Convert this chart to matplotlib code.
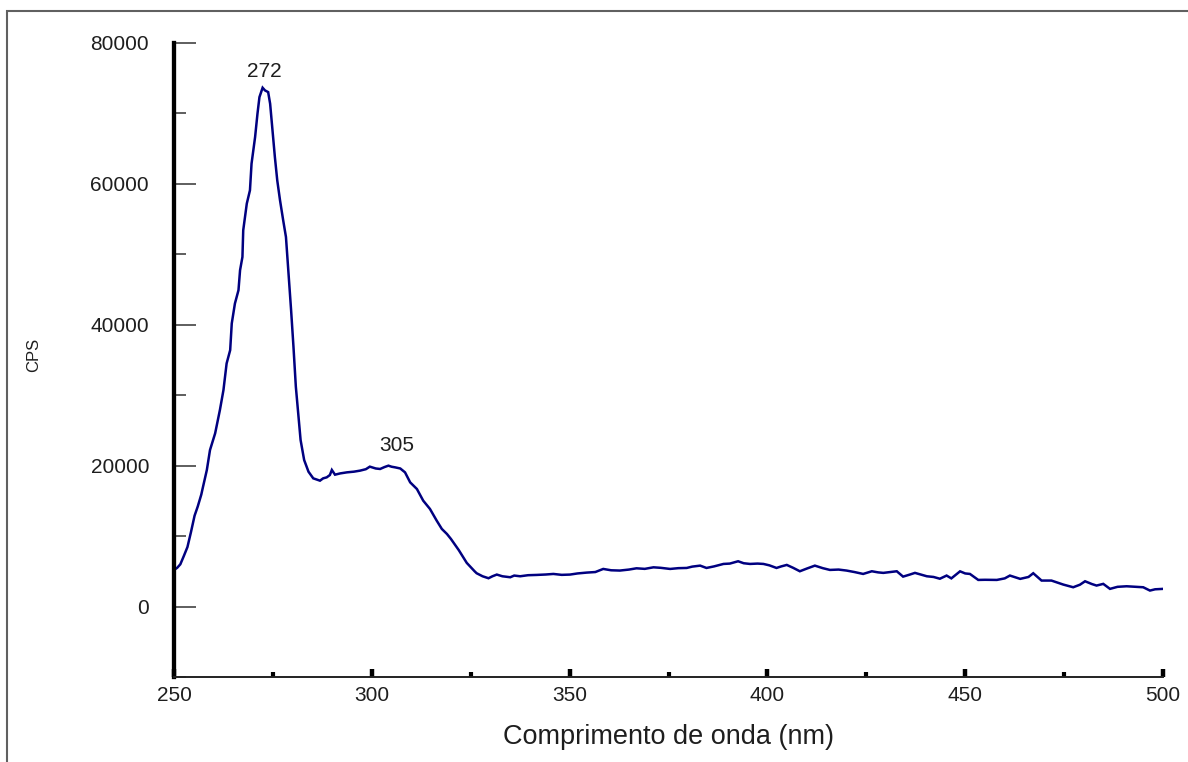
import numpy as np
import matplotlib
matplotlib.use("Agg")
import matplotlib.pyplot as plt
from matplotlib.patches import Rectangle
from matplotlib.ticker import MultipleLocator

plt.rcParams["font.family"] = ["Liberation Sans", "DejaVu Sans"]

NAVY = "#000080"
INK = "#1e1e1e"

# espectro de emissão (nm, CPS)
wavelength = [
    250.0, 250.8, 251.6, 252.5, 253.4, 254.3, 255.2, 256.0, 256.9, 257.25,
    258.3, 259.1, 260.4, 261.6, 262.5, 263.3, 264.2, 264.6, 265.4, 266.3,
    266.7, 267.3, 267.5, 268.4, 269.2, 269.6, 270.5, 271.1, 271.6, 272.4,
    273.0, 273.8, 274.3, 274.9, 275.5, 276.1, 276.8, 277.6, 278.3, 278.9,
    279.6, 280.2, 280.8, 281.4, 282.0, 282.9, 284.0, 285.2, 286.9, 287.7,
    288.6, 289.4, 289.9, 290.7, 292.0, 293.7, 295.5, 297.0, 298.5, 299.5,
    301.0, 302.1, 303.2, 304.2, 305.0, 305.9, 307.2, 308.4, 309.7, 311.4,
    313.0, 314.7, 316.4, 317.7, 319.0, 320.0, 322.0, 324.0, 326.0, 326.5,
    328.0, 329.5, 330.5, 331.6, 333.0, 335.0, 336.0, 337.5, 339.5, 341.7,
    344.0, 345.9, 348.0, 350.1, 352.0, 354.3, 356.5, 358.5, 360.5, 362.7,
    365.0, 366.9, 369.0, 371.2, 373.0, 375.4, 377.5, 379.6, 381.0, 383.0,
    384.6, 386.5, 388.9, 390.5, 392.6, 394.0, 395.6, 397.5, 399.0, 400.5,
    402.3, 403.5, 404.9, 406.5, 408.2, 410.0, 412.0, 414.0, 415.8, 418.0,
    420.0, 422.0, 424.2, 426.4, 428.0, 429.3, 431.0, 432.7, 434.3, 436.0,
    437.3, 439.0, 440.3, 442.0, 443.6, 445.3, 446.5, 448.7, 450.0, 451.2,
    453.3, 455.0, 458.0, 460.0, 461.3, 463.9, 466.0, 467.2, 469.3, 471.8,
    474.8, 477.3, 479.0, 480.3, 482.0, 483.2, 484.9, 486.6, 488.5, 490.8,
    493.0, 495.0, 496.7, 498.0, 500.0,
]
cps = [
    5200, 5500, 6000, 7200, 8450, 10600, 12900, 14200, 15900, 16790,
    19380, 22220, 24590, 27890, 30730, 34510, 36400, 40190, 43020, 44910,
    47750, 49630, 53420, 57200, 59090, 62870, 66650, 69960, 72320, 73650,
    73270, 73030, 71380, 67600, 63810, 60500, 57670, 54830, 52460, 47750,
    42070, 36870, 31200, 27420, 23640, 20800, 19140, 18200, 17870, 18200,
    18340, 18670, 19390, 18720, 18900, 19050, 19150, 19290, 19500, 19860,
    19600, 19530, 19800, 20000, 19850, 19760, 19600, 19050, 17630, 16690,
    15030, 13860, 12200, 11020, 10300, 9600, 8000, 6200, 5000, 4730,
    4300, 4020, 4300, 4540, 4300, 4160, 4400, 4300, 4450, 4490,
    4550, 4630, 4500, 4540, 4700, 4820, 4900, 5340, 5150, 5110,
    5250, 5430, 5350, 5570, 5500, 5340, 5450, 5480, 5670, 5810,
    5480, 5700, 6050, 6100, 6430, 6150, 6050, 6100, 6050, 5850,
    5480, 5700, 5910, 5500, 5010, 5400, 5810, 5450, 5200, 5250,
    5110, 4900, 4630, 5010, 4850, 4780, 4900, 5010, 4250, 4540,
    4780, 4500, 4300, 4200, 3950, 4400, 4000, 5000, 4700, 4630,
    3780, 3800, 3780, 4000, 4400, 3930, 4200, 4730, 3690, 3690,
    3120, 2740, 3100, 3590, 3200, 2980, 3220, 2510, 2800, 2880,
    2800, 2740, 2270, 2450, 2510,
]
peaks = [272, 305]
peak_offsets = [(2.5, 5), (3.6, 7.5)]

fig = plt.figure(figsize=(11.88, 7.62), dpi=100)
ax = fig.add_axes([174 / 1188, 1 - 677 / 762, (1163 - 174) / 1188, (677 - 43) / 762])

ax.plot(wavelength, cps, color=NAVY, lw=1.8, solid_joinstyle="miter")

ax.set_xlim(250, 500)
ax.set_ylim(-10000, 80000)

ax.xaxis.set_major_locator(MultipleLocator(50))
ax.xaxis.set_minor_locator(MultipleLocator(25))
ax.yaxis.set_major_locator(MultipleLocator(20000))
ax.yaxis.set_minor_locator(MultipleLocator(10000))

for side in ("top", "right"):
    ax.spines[side].set_visible(False)
ax.spines["left"].set_linewidth(3.1)
ax.spines["left"].set_color("black")
ax.spines["bottom"].set_linewidth(1.4)
ax.spines["bottom"].set_color("#222222")

ax.tick_params(axis="x", which="major", direction="in", length=6, width=3.2,
               color="black", labelsize=15, labelcolor=INK, pad=6.5)
ax.tick_params(axis="x", which="minor", direction="in", length=3.8, width=3.0,
               color="black")
ax.tick_params(axis="y", which="major", direction="in", length=16, width=1.1,
               color="#333333", labelsize=15, labelcolor=INK, pad=18)
ax.tick_params(axis="y", which="minor", direction="in", length=8.5, width=1.1,
               color="#333333")

ax.set_xlabel("Comprimento de onda (nm)", fontsize=19.5, color=INK, labelpad=13.5)
fig.text(34 / 1188, 1 - 355 / 762, "CPS", rotation=90, ha="center", va="center",
         fontsize=12, color=INK)

wl_arr = np.asarray(wavelength)
cps_arr = np.asarray(cps)
for wl, (dx, dy) in zip(peaks, peak_offsets):
    near = np.abs(wl_arr - wl) <= 2
    top = cps_arr[near].max()
    ax.annotate(str(wl), xy=(wl, top), xytext=(dx, dy), textcoords="offset points",
                ha="center", va="bottom", fontsize=15, color=INK)

# moldura cinza da janela
fig.patches.append(Rectangle((7 / 1188, -0.05), 1.2, 1 - 11 / 762 + 0.05,
                             transform=fig.transFigure, fill=False,
                             edgecolor="#606060", linewidth=1.5))

fig.savefig("out.png", dpi=100)
